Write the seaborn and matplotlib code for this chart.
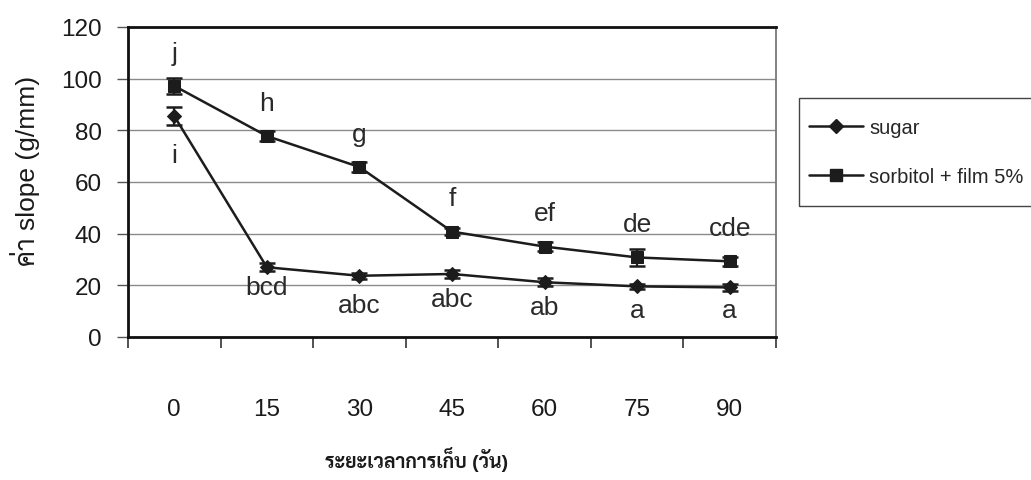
import numpy as np
import pandas as pd
import matplotlib
matplotlib.use("Agg")
import matplotlib.pyplot as plt
from matplotlib.lines import Line2D
from matplotlib.patches import Rectangle
import seaborn as sns

# ---- data ----
days = ["0", "15", "30", "45", "60", "75", "90"]
sugar = [85.5, 27.0, 23.7, 24.4, 21.2, 19.6, 19.2]
sugar_err = [3.5, 1.5, 1.2, 1.5, 1.5, 1.0, 1.3]
sorbitol = [97.2, 77.8, 65.8, 40.8, 35.0, 30.8, 29.3]
sorbitol_err = [3.0, 1.8, 2.0, 1.5, 1.8, 3.2, 1.8]
sugar_letters = ["i", "bcd", "abc", "abc", "ab", "a", "a"]
sorbitol_letters = ["j", "h", "g", "f", "ef", "de", "cde"]
series_names = ["sugar", "sorbitol + film 5%"]
y_ticks = [0, 20, 40, 60, 80, 100, 120]
x_title = "ระยะเวลาการเก็บ (วัน)"
y_title = "ค่า slope (g/mm)"

sns.set_style("white")
LATIN_THAI = ["Liberation Sans", "Sarabun", "Loma", "DejaVu Sans"]
plt.rcParams["font.family"] = LATIN_THAI

pos = np.arange(len(days))
df = pd.DataFrame({
    "pos": np.concatenate([pos, pos]),
    "value": sugar + sorbitol,
    "series": [series_names[0]] * len(days) + [series_names[1]] * len(days),
})

ink = "#1c1c1c"
W, H = 1031, 481
fig = plt.figure(figsize=(W / 100, H / 100), dpi=100)
ax = fig.add_axes([128 / W, 1 - 338 / H, 648 / W, 310 / H])

sns.lineplot(data=df, x="pos", y="value", hue="series", style="series",
             markers={series_names[0]: "D", series_names[1]: "s"},
             dashes=False, palette={series_names[0]: ink, series_names[1]: ink},
             linewidth=1.8, markersize=9, markeredgecolor=ink,
             legend=False, ax=ax, zorder=3)
for ln in ax.lines:
    if ln.get_marker() == "D":
        ln.set_markersize(7)

ax.errorbar(pos, sugar, yerr=sugar_err, fmt="none", ecolor=ink,
            capsize=5.5, elinewidth=1.6, capthick=1.8, zorder=4)
ax.errorbar(pos, sorbitol, yerr=sorbitol_err, fmt="none", ecolor=ink,
            capsize=5.5, elinewidth=1.6, capthick=1.8, zorder=4)

# significance letters
lower_off = [-33, -19.5, -26, -23, -23, -22, -21]
for i in range(len(days)):
    ax.annotate(sorbitol_letters[i], (pos[i], sorbitol[i]), xytext=(0, 19),
                textcoords="offset points", ha="center", va="baseline",
                fontsize=19, color="#2a2a2a")
    ax.annotate(sugar_letters[i], (pos[i], sugar[i]), xytext=(0, lower_off[i]),
                textcoords="offset points", ha="center", va="baseline",
                fontsize=19, color="#2a2a2a")

ax.set_xlim(-0.5, len(days) - 0.5)
ax.set_ylim(y_ticks[0], y_ticks[-1])
ax.set_yticks(y_ticks)
ax.set_yticklabels([str(t) for t in y_ticks])
ax.set_xticks(pos)
ax.set_xticklabels(days)
ax.set_xticks(np.arange(-0.5, len(days), 1.0), minor=True)
ax.tick_params(axis="x", which="major", length=0, pad=44, labelsize=17.5,
               labelcolor="#1a1a1a")
ax.tick_params(axis="x", which="minor", length=8, width=1.2, direction="out",
               color="#333333", bottom=True)
ax.tick_params(axis="y", which="major", length=8, width=1.0, direction="out",
               color="#555555", pad=11, labelsize=17.5, labelcolor="#1a1a1a", left=True)

ax.yaxis.grid(True, color="#8a8a8a", linewidth=1.0)
ax.xaxis.grid(False)
ax.set_axisbelow(True)

for side in ["left", "bottom", "top"]:
    ax.spines[side].set_color("#111111")
    ax.spines[side].set_linewidth(2.0)
ax.spines["right"].set_color("#777777")
ax.spines["right"].set_linewidth(1.3)

ax.set_xlabel(x_title, fontsize=14, fontweight="bold", color="#1a1a1a",
              family=["Liberation Sans", "Sarabun", "Loma", "DejaVu Sans"])
ax.xaxis.set_label_coords((417 - 128) / 648, (338 - 460) / 310)
ax.xaxis.label.set_va("center")
ax.set_ylabel(y_title, fontsize=19, color="#1a1a1a")
ax.yaxis.set_label_coords((25 - 128) / 648, (338 - 171) / 310)
ax.yaxis.label.set_va("center")

# legend: frame drawn as a figure rectangle, entries placed inside
fig.patches.append(Rectangle((799 / W, 1 - 207 / H), 260 / W, 108 / H,
                             transform=fig.transFigure, fill=False,
                             edgecolor="#444444", linewidth=1.0))
handles = [
    Line2D([], [], color=ink, lw=1.8, marker="D", markersize=7),
    Line2D([], [], color=ink, lw=1.8, marker="s", markersize=9),
]
leg = fig.legend(handles, series_names, loc="upper left",
                 bbox_to_anchor=(809 / W, 1 - 119 / H),
                 frameon=False, fontsize=14.5,
                 labelspacing=1.5, borderpad=0, handlelength=2.7,
                 handletextpad=0.3, borderaxespad=0)

fig.savefig("out.png", dpi=100)
